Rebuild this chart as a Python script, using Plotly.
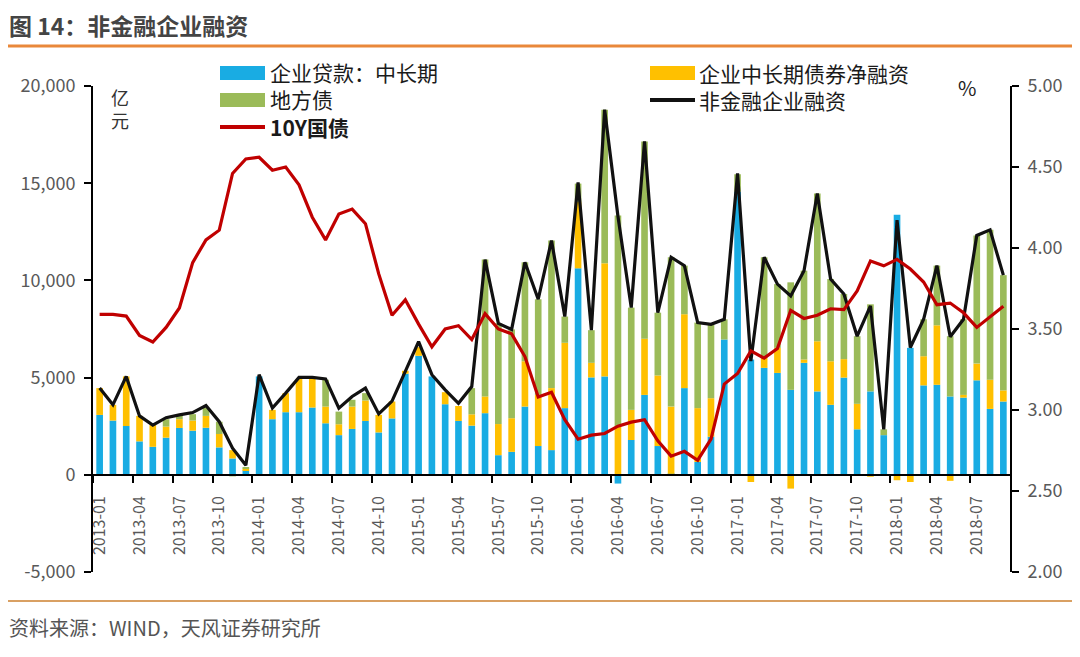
import plotly.graph_objects as go

# ---------------- data ----------------
months = [f"{y}-{m:02d}" for y in range(2013, 2019) for m in range(1, 13)][:69]  # 2013-01 .. 2018-09

loans_mlt = [3080, 2790, 2510, 1720, 1440, 1910, 2410, 2270, 2420, 1410, 840, 230,
             5060, 2860, 3220, 3220, 3460, 2650, 2040, 2360, 2770, 2180, 2900, 5200,
             6120, 5060, 3630, 2770, 2530, 3170, 1010, 1180, 3510, 1480, 1270, 3430,
             10620, 5010, 5060, -450, 1790, 4110, 1480, 50, 4460, 660, 1960, 6960,
             14560, 5930, 5500, 5240, 4370, 5760, 4290, 3600, 5000, 2340, 4290, 2040,
             13380, 6530, 4600, 4630, 4030, 3970, 4860, 3390, 3770]

bonds_mlt = [1380, 810, 2550, 1310, 1120, 570, 450, 520, 610, 690, 430, 90,
             0, 480, 980, 1710, 1500, 860, 560, 1150, 1050, 900, 870, 150,
             450, 0, 620, 770, 580, 860, 1600, 1730, 2330, 2630, 3190, 3360,
             3420, 750, 5820, 2500, 1550, 2890, 3630, 3460, 3800, 2770, 1980, 0,
             0, -370, 510, 1290, -710, 170, 2580, 2240, 950, 1310, -100, 0,
             -280, -370, 1500, 3060, -310, 140, 860, 1500, 570]

local_bonds = [0, 0, 0, 0, 0, 380, 200, 330, 430, 630, -80, 50,
               0, 0, 0, 0, 0, 1380, 650, 350, 380, -60, -60, 0,
               0, 0, 0, 0, 1350, 7040, 5180, 4570, 5090, 4920, 7590, 1350,
               940, 1680, 7900, 10840, 5260, 10150, 3230, 7680, 2500, 4400, 3800, 1040,
               900, 0, 5180, 3280, 5530, 4570, 7600, 4230, 3350, 3480, 4480, 300,
               0, 0, 1900, 3070, 3100, 3890, 6590, 7710, 5930]

nonfin_total = [4460, 3600, 5060, 3030, 2560, 2940, 3080, 3200, 3560, 2730, 1370, 490,
                5150, 3430, 4200, 5010, 5010, 4930, 3430, 4030, 4460, 3130, 3790, 5330,
                6850, 5150, 4370, 3680, 4540, 11070, 7790, 7480, 10930, 9030, 12050, 8140,
                15040, 7440, 18780, 13300, 8600, 17150, 8340, 11190, 10760, 7830, 7740, 8000,
                15500, 5850, 11190, 9810, 9200, 10500, 14470, 10070, 9300, 7130, 8690, 2340,
                13100, 6550, 8000, 10760, 7100, 8000, 12310, 12600, 10270]

cgb_10y = [3.59, 3.59, 3.58, 3.46, 3.42, 3.51, 3.63, 3.91, 4.05, 4.11, 4.46, 4.55,
           4.56, 4.48, 4.50, 4.39, 4.19, 4.05, 4.21, 4.24, 4.15, 3.84, 3.585, 3.68,
           3.53, 3.39, 3.50, 3.52, 3.435, 3.595, 3.50, 3.47, 3.33, 3.08, 3.11, 2.94,
           2.82, 2.845, 2.855, 2.90, 2.925, 2.94, 2.81, 2.715, 2.745, 2.69, 2.82, 3.16,
           3.225, 3.365, 3.32, 3.38, 3.615, 3.565, 3.585, 3.625, 3.62, 3.735, 3.92, 3.89,
           3.93, 3.87, 3.79, 3.65, 3.66, 3.60, 3.51, 3.575, 3.64]

left_ticks = [-5000, 0, 5000, 10000, 15000, 20000]
left_tick_text = ["-5,000", "0", "5,000", "10,000", "15,000", "20,000"]
right_ticks = [2.0, 2.5, 3.0, 3.5, 4.0, 4.5, 5.0]
right_tick_text = ["2.00", "2.50", "3.00", "3.50", "4.00", "4.50", "5.00"]

names = ["企业贷款：中长期", "企业中长期债券净融资", "地方债", "非金融企业融资", "10Y国债"]

# ---------------- style ----------------
BLUE = "#19ACE3"
YELLOW = "#FFC000"
GREEN = "#9BBB59"
BLACK = "#111111"
RED = "#C00000"
TICK_GRAY = "#595959"
FONT = "Noto Sans CJK SC"

OFF = 8  # page body margin
W, H = 1080 - OFF, 657 - OFF
PLOT_X0, PLOT_X1, PLOT_Y0, PLOT_Y1 = 93, 1010, 86, 572  # target page pixels
L = PLOT_X0 - OFF
T = PLOT_Y0 - OFF
R = W - (PLOT_X1 - OFF)
B = H - (PLOT_Y1 - OFF)
PW, PH = W - L - R, H - T - B


def px(x):
    return (x - OFF - L) / PW


def py(y):
    return (PLOT_Y1 - y) / PH


idx = list(range(len(months)))

fig = go.Figure()
for vals, col, nm in [(loans_mlt, BLUE, names[0]), (bonds_mlt, YELLOW, names[1]), (local_bonds, GREEN, names[2])]:
    fig.add_trace(go.Bar(x=idx, y=vals, name=nm, marker=dict(color=col, line=dict(width=0)),
                         showlegend=False, customdata=months,
                         hovertemplate="%{customdata}<br>%{y}<extra>" + nm + "</extra>"))

fig.add_trace(go.Scatter(x=idx, y=nonfin_total, mode="lines", name=names[3], showlegend=False,
                         line=dict(color=BLACK, width=3.2)))
fig.add_trace(go.Scatter(x=idx, y=cgb_10y, mode="lines", name=names[4], showlegend=False,
                         xaxis="x2", yaxis="y2", line=dict(color=RED, width=3.2)))

zero_pos = (0 - left_ticks[0]) / (left_ticks[-1] - left_ticks[0])
xr = [-0.5, len(months) - 0.5]

fig.update_layout(
    width=W, height=H,
    margin=dict(l=L, r=R, t=T, b=B),
    paper_bgcolor="white", plot_bgcolor="white",
    barmode="relative", bargap=0.5,
    font=dict(family=FONT, color=TICK_GRAY),
    showlegend=False,
    xaxis=dict(range=xr, anchor="free", position=zero_pos, showline=True, linecolor="black", linewidth=2,
               tickvals=idx[::3], ticktext=months[::3], tickangle=-90, ticks="outside", ticklen=14,
               tickcolor="rgba(0,0,0,0)", tickfont=dict(size=16, color=TICK_GRAY, family=FONT),
               showgrid=False, zeroline=False, fixedrange=True),
    xaxis2=dict(range=xr, overlaying="x", anchor="free", position=zero_pos, showline=False,
                tickvals=[i - 0.5 for i in idx[::3]], ticks="outside", ticklen=7, tickwidth=2,
                tickcolor="black", showticklabels=False, showgrid=False, zeroline=False),
    yaxis=dict(range=[left_ticks[0], left_ticks[-1]], tickvals=left_ticks, ticktext=left_tick_text,
               showline=True, linecolor="black", linewidth=2, ticks="outside", ticklen=7, tickwidth=2,
               tickcolor="black", tickfont=dict(size=18, color=TICK_GRAY, family=FONT),
               ticklabelstandoff=5, showgrid=False, zeroline=False),
    yaxis2=dict(range=[right_ticks[0], right_ticks[-1]], tickvals=right_ticks, ticktext=right_tick_text,
                overlaying="y", side="right", anchor="x2", showline=True, linecolor="black", linewidth=2,
                ticks="outside", ticklen=7, tickwidth=2, tickcolor="black",
                tickfont=dict(size=18, color=TICK_GRAY, family=FONT), ticklabelstandoff=5,
                showgrid=False, zeroline=False),
)

shapes = []
ann = []

# header / footer rules
shapes.append(dict(type="line", xref="paper", yref="paper", x0=px(0), x1=px(1080), y0=py(46), y1=py(46),
                   line=dict(color="#E9883A", width=3)))
shapes.append(dict(type="line", xref="paper", yref="paper", x0=px(0), x1=px(1080), y0=py(601), y1=py(601),
                   line=dict(color="#D9A063", width=2)))

ann.append(dict(text="<b>图 14：非金融企业融资</b>", xref="paper", yref="paper", x=px(7), y=py(25),
                xanchor="left", yanchor="middle", showarrow=False,
                font=dict(size=23, color="#444444", family=FONT)))
ann.append(dict(text="资料来源：WIND，天风证券研究所", xref="paper", yref="paper", x=px(7), y=py(627),
                xanchor="left", yanchor="middle", showarrow=False,
                font=dict(size=20, color="#555555", family=FONT)))

# unit labels
ann.append(dict(text="亿<br>元", xref="paper", yref="paper", x=px(120), y=py(108),
                xanchor="center", yanchor="middle", showarrow=False,
                font=dict(size=18, color="#333333", family=FONT)))
ann.append(dict(text="%", xref="paper", yref="paper", x=px(967), y=py(88),
                xanchor="center", yanchor="middle", showarrow=False,
                font=dict(size=20, color="#222222", family=FONT)))

# legend (manual): swatches + one multi-line text block per column
legend_swatches = [
    ("rect", BLUE, 220, 73), ("rect", GREEN, 220, 100), ("line", RED, 220, 127),
    ("rect", YELLOW, 650, 73), ("line", BLACK, 650, 100),
]
for kind, col, x0, yc in legend_swatches:
    if kind == "rect":
        shapes.append(dict(type="rect", xref="paper", yref="paper", x0=px(x0), x1=px(x0 + 45),
                           y0=py(yc + 7), y1=py(yc - 7), line=dict(width=0), fillcolor=col))
    else:
        shapes.append(dict(type="line", xref="paper", yref="paper", x0=px(x0), x1=px(x0 + 45),
                           y0=py(yc), y1=py(yc), line=dict(color=col, width=4)))

ann.append(dict(text=f"{names[0]}<br>{names[2]}<br><b>{names[4]}</b>", xref="paper", yref="paper",
                x=px(268), y=py(100), xanchor="left", yanchor="middle", align="left", showarrow=False,
                font=dict(size=21, color="#1A1A1A", family=FONT)))
ann.append(dict(text=f"{names[1]}<br>{names[3]}", xref="paper", yref="paper",
                x=px(697), y=py(86.5), xanchor="left", yanchor="middle", align="left", showarrow=False,
                font=dict(size=21, color="#1A1A1A", family=FONT)))

fig.update_layout(shapes=shapes, annotations=ann)

fig.write_html("out.html")
